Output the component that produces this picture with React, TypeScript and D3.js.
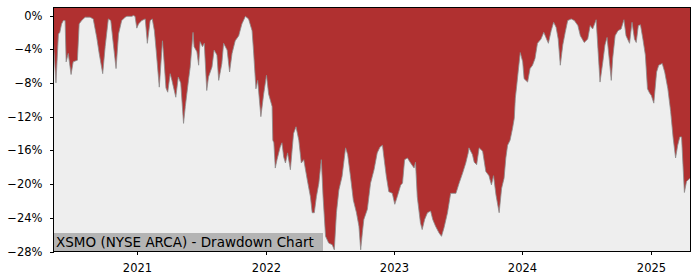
import React from "react";
import * as d3 from "d3";

const dates = [
  "2020-05-07","2020-05-14","2020-05-21","2020-05-25","2020-05-30","2020-06-04","2020-06-09","2020-06-12","2020-06-18","2020-06-26",
  "2020-07-02","2020-07-14","2020-07-19","2020-07-26","2020-08-05","2020-08-19","2020-08-28","2020-09-07","2020-09-14","2020-09-24",
  "2020-10-01","2020-10-10","2020-10-17","2020-10-24","2020-11-01","2020-11-08","2020-11-17","2020-11-27","2020-12-02","2020-12-16",
  "2020-12-20","2020-12-25","2020-12-30","2021-01-04","2021-01-13","2021-01-23","2021-01-29","2021-02-06","2021-02-12","2021-02-18",
  "2021-02-23","2021-03-04","2021-03-13","2021-03-16","2021-03-23","2021-03-28","2021-04-04","2021-04-09","2021-04-20","2021-04-27",
  "2021-05-04","2021-05-12","2021-05-17","2021-05-26","2021-05-31","2021-06-08","2021-06-11","2021-06-19","2021-06-24","2021-06-28",
  "2021-07-05","2021-07-10","2021-07-17","2021-07-22","2021-08-01","2021-08-07","2021-08-15","2021-08-20","2021-08-29","2021-09-03",
  "2021-09-13","2021-09-20","2021-09-27","2021-10-06","2021-10-16","2021-10-25","2021-11-04","2021-11-13","2021-11-23","2021-11-27",
  "2021-12-04","2021-12-09","2021-12-18","2021-12-26","2022-01-03","2022-01-09","2022-01-19","2022-01-21","2022-01-24","2022-01-28",
  "2022-02-02","2022-02-11","2022-02-16","2022-02-21","2022-02-26","2022-03-04","2022-03-12","2022-03-17","2022-03-21","2022-03-28",
  "2022-04-05","2022-04-12","2022-04-19","2022-04-29","2022-05-08","2022-05-13","2022-05-19","2022-05-25","2022-06-01","2022-06-08",
  "2022-06-13","2022-06-20","2022-06-29","2022-07-09","2022-07-15","2022-07-21","2022-07-28","2022-08-06","2022-08-16","2022-08-22",
  "2022-08-30","2022-09-07","2022-09-16","2022-09-23","2022-09-28","2022-10-03","2022-10-07","2022-10-17","2022-10-26","2022-11-05",
  "2022-11-14","2022-11-22","2022-11-29","2022-12-03","2022-12-10","2022-12-17","2022-12-27","2023-01-03","2023-01-10","2023-01-20",
  "2023-01-25","2023-01-31","2023-02-08","2023-02-17","2023-02-27","2023-03-03","2023-03-08","2023-03-17","2023-03-22","2023-03-29",
  "2023-04-06","2023-04-15","2023-04-21","2023-04-29","2023-05-09","2023-05-16","2023-05-23","2023-06-02","2023-06-11","2023-06-26",
  "2023-07-05","2023-07-15","2023-07-24","2023-07-31","2023-08-02","2023-08-12","2023-08-17","2023-08-24","2023-08-31","2023-09-10",
  "2023-09-19","2023-09-28","2023-10-05","2023-10-11","2023-10-18","2023-10-27","2023-11-03","2023-11-10","2023-11-15","2023-11-20",
  "2023-11-27","2023-12-04","2023-12-09","2023-12-12","2023-12-16","2023-12-20","2023-12-26","2024-01-02","2024-01-06","2024-01-16",
  "2024-01-23","2024-01-30","2024-02-06","2024-02-13","2024-02-23","2024-03-02","2024-03-08","2024-03-15","2024-03-23","2024-03-30",
  "2024-04-06","2024-04-12","2024-04-18","2024-04-25","2024-05-02","2024-05-09","2024-05-19","2024-05-28","2024-06-07","2024-06-14",
  "2024-06-25","2024-07-05","2024-07-12","2024-07-19","2024-07-29","2024-08-03","2024-08-09","2024-08-17","2024-08-23","2024-08-29",
  "2024-09-05","2024-09-10","2024-09-14","2024-09-21","2024-09-29","2024-10-08","2024-10-16","2024-10-22","2024-11-01","2024-11-08",
  "2024-11-15","2024-11-20","2024-11-26","2024-12-02","2024-12-09","2024-12-16","2024-12-22","2024-12-28","2025-01-02","2025-01-09",
  "2025-01-17","2025-01-23","2025-02-02","2025-02-09","2025-02-18","2025-02-26","2025-03-05","2025-03-12","2025-03-18","2025-03-24",
  "2025-03-29","2025-04-02","2025-04-06","2025-04-12","2025-04-22"
];

const drawdown = [
  -3.3,-8.0,-2.2,-2.0,-1.0,-0.6,-0.6,-5.5,-4.5,-7.0,
  -5.5,-5.3,-1.0,-0.6,-0.2,-0.2,-0.4,-2.6,-4.5,-6.9,
  -3.7,-0.4,-0.6,-3.3,-6.3,-2.2,-0.6,-0.2,-0.1,-0.1,
  0,-0.1,-1.5,-1.0,-0.6,-0.4,-3.3,-0.6,-0.4,-1.8,
  -4.1,-8.5,-3.0,-4.5,-8.6,-9.1,-6.9,-7.7,-9.7,-7.3,
  -8.0,-12.8,-10.8,-7.7,-6.1,-2.0,-3.7,-4.3,-5.9,-3.1,
  -3.7,-3.3,-8.9,-7.3,-6.1,-4.1,-4.7,-7.7,-5.7,-3.3,
  -4.1,-6.7,-4.5,-3.0,-2.4,-1.0,-0.1,-0.4,-1.8,-4.1,
  -8.7,-7.7,-12.0,-9.3,-7.1,-9.3,-10.8,-14.8,-15.1,-18.1,
  -17.1,-15.6,-15.1,-16.8,-17.5,-16.3,-18.3,-15.9,-14.0,-13.2,
  -14.8,-17.5,-17.1,-19.5,-21.5,-23.4,-23.4,-21.5,-19.9,-17.1,
  -21.5,-26.2,-27.0,-27.2,-27.8,-23.4,-20.7,-19.1,-15.7,-16.5,
  -19.1,-21.9,-23.4,-25.0,-27.8,-25.7,-24.2,-23.0,-19.9,-18.3,
  -16.3,-15.6,-15.4,-16.8,-19.1,-20.9,-21.1,-22.4,-21.5,-20.1,
  -19.9,-17.1,-16.9,-17.5,-18.1,-17.4,-21.5,-24.6,-25.4,-24.2,
  -23.4,-23.2,-24.2,-25.0,-25.8,-26.2,-25.2,-23.4,-21.1,-21.1,
  -19.9,-18.7,-17.5,-16.3,-15.7,-16.5,-17.4,-17.7,-15.7,-16.1,
  -18.5,-19.0,-20.1,-19.0,-21.3,-23.4,-20.5,-19.3,-16.9,-15.4,
  -14.8,-13.4,-12.2,-9.8,-8.3,-6.7,-4.4,-5.5,-7.5,-7.9,
  -6.3,-5.9,-5.1,-3.3,-2.8,-2.0,-2.6,-3.3,-1.8,-0.8,
  -1.4,-2.8,-5.9,-3.5,-2.0,-0.6,-0.4,-0.6,-1.2,-2.4,
  -3.2,-2.8,-1.2,-1.6,-0.5,-3.9,-7.9,-5.5,-3.5,-2.6,
  -5.5,-7.7,-5.1,-2.4,-1.8,-1.6,-0.5,-2.4,-3.3,-0.8,
  -2.8,-3.2,-1.2,-1.1,-2.8,-4.7,-8.7,-9.2,-9.5,-10.4,
  -6.7,-5.9,-5.7,-6.7,-8.7,-11.4,-14.5,-16.9,-15.4,-14.4,
  -14.4,-17.7,-21.0,-19.7,-19.3
];

const yTicks = [0, -4, -8, -12, -16, -20, -24, -28];
const xTickYears = [2021, 2022, 2023, 2024, 2025];
const title = "XSMO (NYSE ARCA) - Drawdown Chart";

export default function App() {
  const W = 700, H = 280;
  const L = 53.5, R = 690.5, T = 7.5, B = 251.5;
  const parse = d3.timeParse("%Y-%m-%d");
  const data = dates.map((d, i) => ({ date: parse(d) as Date, v: drawdown[i] }));
  const x = d3.scaleTime()
    .domain(d3.extent(data, (d) => d.date) as [Date, Date])
    .range([L, R - 0.5]);
  const y = d3.scaleLinear().domain([-28, 0.95]).range([B, T]);

  const area = d3.area<{ date: Date; v: number }>()
    .x((d) => x(d.date))
    .y0(T)
    .y1((d) => y(d.v));
  const line = d3.line<{ date: Date; v: number }>()
    .x((d) => x(d.date))
    .y((d) => y(d.v));

  const font = "DejaVu Sans, sans-serif";

  return (
    <svg width={W} height={H} style={{ position: "absolute", left: 0, top: 0 }} fontFamily={font}>
      <rect x={0} y={0} width={W} height={H} fill="#ffffff" />
      <rect x={L} y={T} width={R - L} height={B - T} fill="#eeeeee" />
      <path d={area(data) || ""} fill="#b03030" />
      <path d={line(data) || ""} fill="none" stroke="#8c8c8c" strokeWidth={0.8} />
      <rect x={L} y={233} width={323 - L} height={B - 233} fill="#b4b4b4" />
      <text x={56} y={247} fontSize={13.5} fill="#000">{title}</text>
      <rect x={L} y={T} width={R - L} height={B - T} fill="none" stroke="#000" strokeWidth={1} shapeRendering="crispEdges" />
      {yTicks.map((t) => (
        <g key={t}>
          <line x1={L - 3.5} x2={L} y1={Math.round(y(t)) + 0.5} y2={Math.round(y(t)) + 0.5} stroke="#000" strokeWidth={1} shapeRendering="crispEdges" />
          <text x={L - 11} y={y(t) + 4} fontSize={11.5} textAnchor="end" fill="#000">
            {(t < 0 ? "\u2212" + Math.abs(t) : String(t)) + "%"}
          </text>
        </g>
      ))}
      {xTickYears.map((yr) => {
        const xx = Math.round(x(new Date(yr, 0, 1))) + 0.5;
        return (
          <g key={yr}>
            <line x1={xx} x2={xx} y1={B} y2={B + 3.5} stroke="#000" strokeWidth={1} shapeRendering="crispEdges" />
            <text x={xx} y={271.5} fontSize={11.5} textAnchor="middle" fill="#000">{String(yr)}</text>
          </g>
        );
      })}
    </svg>
  );
}
